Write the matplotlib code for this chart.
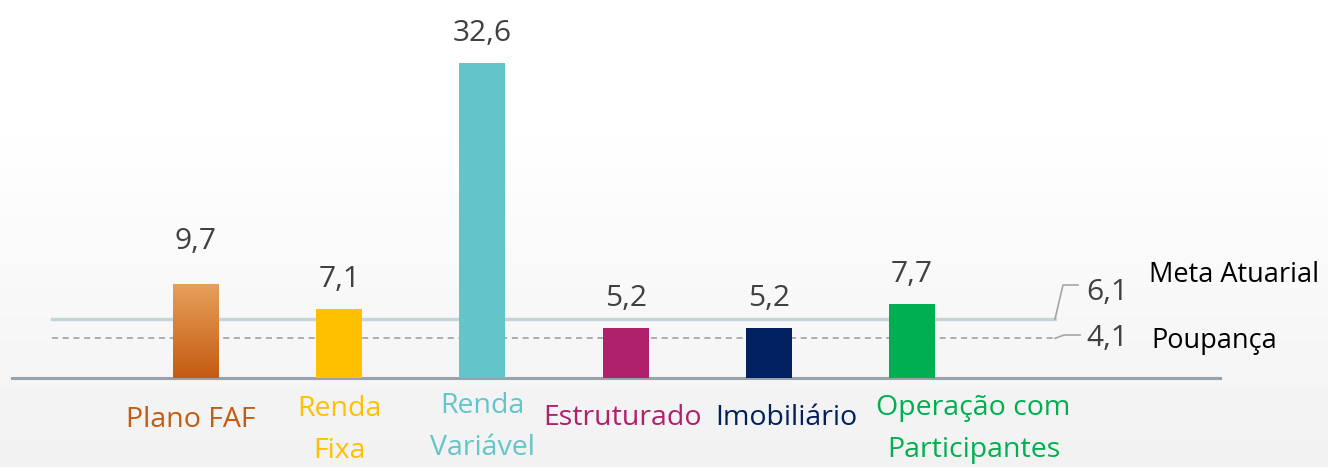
import numpy as np
import matplotlib
matplotlib.use("Agg")
import matplotlib.pyplot as plt
from matplotlib.colors import LinearSegmentedColormap

# data
categorias = ["Plano FAF", "Renda\nFixa", "Renda\nVariável", "Estruturado", "Imobiliário", "Operação com\nParticipantes"]
valores = [9.7, 7.1, 32.6, 5.2, 5.2, 7.7]
cores = ["#c55a11", "#ffc000", "#63c5c9", "#b0216b", "#002060", "#00b050"]
meta_atuarial = 6.1
poupanca = 4.1

plt.rcParams['font.family'] = ['Open Sans', 'DejaVu Sans']

W, H = 1328, 467
fig = plt.figure(figsize=(W / 100, H / 100), dpi=100)

# background gradient (white top -> light gray bottom)
bg = fig.add_axes([0, 0, 1, 1], zorder=-10)
rows = np.linspace(0, 1, H)
g = np.clip((rows - 0.25) / 0.75, 0, 1)
shade = 1.0 - 0.055 * g
bg.imshow(np.repeat(shade[:, None], 4, axis=1), cmap="gray", vmin=0, vmax=1,
          aspect="auto", extent=[0, 1, 0, 1], origin="upper")
bg.axis("off")

# main axes placed in pixels
left, right, base, top = 12, 1220, 378, 30
ax = fig.add_axes([left / W, (H - base) / H, (right - left) / W, (base - top) / H])
ax.patch.set_alpha(0)
px_per_cat = 143.2
x0 = 196
ax.set_xlim((left - x0) / px_per_cat, (right - x0) / px_per_cat)
ax.set_ylim(0, 36)
for s in ["top", "right", "left"]:
    ax.spines[s].set_visible(False)
ax.spines["bottom"].set_color("#98a2aa")
ax.spines["bottom"].set_linewidth(2.2)
ax.set_xticks([])
ax.set_yticks([])

x = np.arange(len(valores))
bars = ax.bar(x, valores, width=0.32, color=cores, zorder=3)

# gradient on first bar
b0 = bars[0]
grad = LinearSegmentedColormap.from_list("faf", ["#c55a11", "#e6a05a"])
im = ax.imshow(np.linspace(0, 1, 100)[:, None], cmap=grad, aspect="auto",
               extent=[b0.get_x(), b0.get_x() + b0.get_width(), 0, b0.get_height()],
               origin="lower", zorder=4)
im.set_clip_path(b0)

# reference lines
def px2x(p):
    return (p - x0) / px_per_cat

def py2y(p):
    return (base - p) / ((base - top) / 36)

xa, xb = px2x(52), px2x(1055)
ax.plot([xa, xb], [meta_atuarial, meta_atuarial], color="#c4d4db", lw=2.4, zorder=2)
ax.plot([xa, xb], [poupanca, poupanca], color="#9a9a9a", lw=1.1, ls=(0, (4, 3)), zorder=2)

# leader lines to labels
ax.plot([xb, px2x(1063), px2x(1078)], [meta_atuarial, py2y(285), py2y(285)],
        color="#a6a6a6", lw=1.2, clip_on=False)
ax.plot([xb, px2x(1064), px2x(1080)], [poupanca, py2y(335), py2y(335)],
        color="#a6a6a6", lw=1.2, clip_on=False)

def fmt(v):
    return f"{v:.1f}".replace(".", ",")

ax.text(px2x(1086), py2y(300), fmt(meta_atuarial), fontsize=21.5, color="#404040",
        va="baseline", ha="left", clip_on=False)
ax.text(px2x(1086), py2y(346), fmt(poupanca), fontsize=21.5, color="#404040",
        va="baseline", ha="left", clip_on=False)
ax.text(px2x(1149), py2y(275), "Meta Atuarial", fontsize=19.5, color="black",
        va="center", ha="left", clip_on=False)
ax.text(px2x(1151), py2y(341), "Poupança", fontsize=19.5, color="black",
        va="center", ha="left", clip_on=False)

# value labels
offs = [35, 22, 22, 22, 22, 22]
for xi, v, o in zip(x, valores, offs):
    ax.annotate(fmt(v), (xi, v), xytext=(0, o), textcoords="offset pixels",
                ha="center", va="baseline", fontsize=21.5, color="#404040")

# category labels
shift = [-0.04, 0, 0, -0.02, 0.12, 0.43]
ypos = [420, 430, 427, 418, 418, 429]
for xi, cat, c, s, yp in zip(x, categorias, cores, shift, ypos):
    ax.text(xi + s, py2y(yp), cat, color=c, fontsize=20.5, ha="center", va="center",
            linespacing=1.62, clip_on=False)

fig.savefig("out.png", dpi=100)
